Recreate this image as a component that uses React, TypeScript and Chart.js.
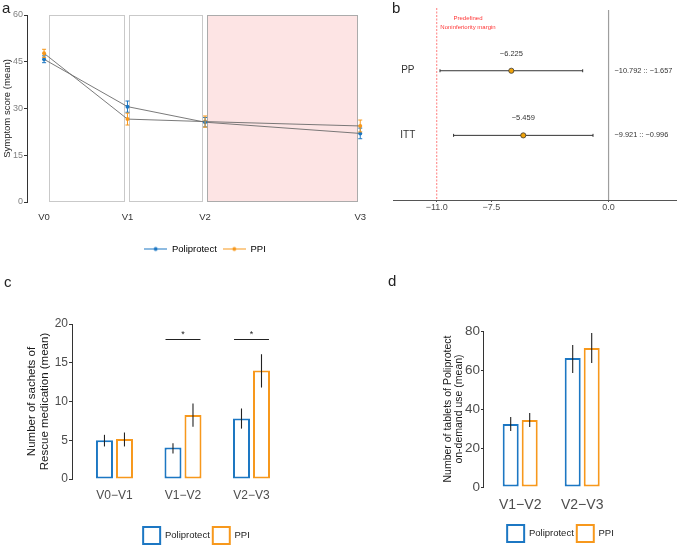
import React, { useEffect, useRef } from "react";
import { Chart, registerables } from "chart.js";

Chart.register(...registerables);

const FONT = '"Liberation Sans", Arial, Helvetica, sans-serif';
Chart.defaults.font.family = FONT;

const BLUE = "#1c77c3";
const ORANGE = "#f7981c";
const LINE_GREY = "#6b6b6b";
const MINUS = "\u2212";

// ---------- panel a: symptom score ----------
const visits = ["V0", "V1", "V2", "V3"];
const visitX = [0, 4.3, 8.3, 16.3];
const poliScore = [45.8, 30.6, 25.6, 22.0];
const poliScoreErr = [1.1, 1.8, 1.5, 1.7];
const ppiScore = [47.7, 26.6, 25.8, 24.4];
const ppiScoreErr = [1.3, 1.9, 1.8, 1.9];
const phaseStart = [0.26, 4.38, 8.41];
const phaseEnd = [4.13, 8.15, 16.14];
const scoreMax = 60;

// ---------- panel b: forest plot ----------
const populations = ["PP", "ITT"];
const popY = [2, 1];
const diffEstimate = [-6.225, -5.459];
const diffLower = [-10.792, -9.921];
const diffUpper = [-1.657, -0.996];
const nonInferiorityMargin = -11.0;
const diffTicks = [-11.0, -7.5, 0.0];
const marginLabel = ["Predefined", "Noninferiority margin"];

// ---------- panel c: rescue medication ----------
const periodsC = ["V0\u2212V1", "V1\u2212V2", "V2\u2212V3"];
const poliSachets = [5.0, 4.05, 7.8];
const poliSachetsLo = [4.2, 3.3, 6.5];
const poliSachetsHi = [5.7, 4.6, 9.1];
const ppiSachets = [5.15, 8.25, 14.0];
const ppiSachetsLo = [4.2, 6.75, 11.8];
const ppiSachetsHi = [6.0, 9.75, 16.1];
const sigPeriods = [2, 3];
const sigLevel = 18;

// ---------- panel d: on-demand tablets ----------
const periodsD = ["V1\u2212V2", "V2\u2212V3"];
const poliTablets = [32.3, 66.2];
const poliTabletsLo = [28.7, 58.5];
const poliTabletsHi = [35.9, 72.8];
const ppiTablets = [34.4, 71.3];
const ppiTabletsLo = [30.8, 63.6];
const ppiTabletsHi = [38.0, 79.0];

function fmtSigned(v: number, digits: number) {
  return (v < 0 ? MINUS : "") + Math.abs(v).toFixed(digits);
}

function seg(ctx: CanvasRenderingContext2D, x1: number, y1: number, x2: number, y2: number) {
  ctx.beginPath();
  ctx.moveTo(x1, y1);
  ctx.lineTo(x2, y2);
  ctx.stroke();
}

const legendShift = {
  id: "legendShift",
  afterLayout(chart: any, _a: any, opts: any) {
    const l = chart.legend;
    if (!l) return;
    const dx = (opts && opts.dx) || 0;
    const dy = (opts && opts.dy) || 0;
    l.left += dx;
    l.right += dx;
    l.top += dy;
    l.bottom += dy;
  },
};

function lineDotIcon(color: string) {
  const c = document.createElement("canvas");
  c.width = 23;
  c.height = 7;
  const g = c.getContext("2d")!;
  g.strokeStyle = color;
  g.lineWidth = 1;
  g.beginPath();
  g.moveTo(0, 3.5);
  g.lineTo(23, 3.5);
  g.stroke();
  g.fillStyle = color;
  g.beginPath();
  g.arc(11.5, 3.5, 2, 0, Math.PI * 2);
  g.fill();
  return c;
}

// ---------- builders ----------
function buildA() {
  const phaseFill = ["#ffffff", "#ffffff", "#fde4e4"];
  const phaseBorder = ["#c9c9c9", "#c9c9c9", "#ababab"];
  const phaseBoxes = {
    id: "phaseBoxes",
    beforeDatasetsDraw(chart: any) {
      const { ctx, scales } = chart;
      const x = scales.x, y = scales.y;
      ctx.save();
      phaseStart.forEach((s, i) => {
        const x1 = x.getPixelForValue(s), x2 = x.getPixelForValue(phaseEnd[i]);
        const yt = y.getPixelForValue(scoreMax), yb = y.getPixelForValue(0);
        ctx.fillStyle = phaseFill[i];
        ctx.fillRect(x1, yt, x2 - x1, yb - yt);
        ctx.strokeStyle = phaseBorder[i];
        ctx.lineWidth = 1;
        ctx.strokeRect(Math.round(x1) + 0.5, Math.round(yt) + 0.5, Math.round(x2 - x1), Math.round(yb - yt) - 1);
      });
      ctx.restore();
    },
  };
  const errorBars = {
    id: "errorBarsA",
    afterDatasetsDraw(chart: any) {
      const { ctx, scales } = chart;
      const x = scales.x, y = scales.y;
      const sets: [number[], number[], string][] = [
        [poliScore, poliScoreErr, BLUE],
        [ppiScore, ppiScoreErr, ORANGE],
      ];
      ctx.save();
      ctx.lineWidth = 1;
      sets.forEach(([vals, errs, col]) => {
        ctx.strokeStyle = col;
        vals.forEach((v, i) => {
          const px = x.getPixelForValue(visitX[i]);
          const y1 = y.getPixelForValue(v - errs[i]);
          const y2 = y.getPixelForValue(v + errs[i]);
          seg(ctx, px, y1, px, y2);
          seg(ctx, px - 2, y1, px + 2, y1);
          seg(ctx, px - 2, y2, px + 2, y2);
        });
      });
      ctx.restore();
    },
  };
  const icons = [lineDotIcon(BLUE), lineDotIcon(ORANGE)];
  return {
    type: "line",
    data: {
      datasets: [
        {
          label: "Poliprotect",
          data: visitX.map((x, i) => ({ x, y: poliScore[i] })),
          borderColor: LINE_GREY,
          borderWidth: 0.9,
          pointRadius: 2,
          pointBackgroundColor: BLUE,
          pointBorderWidth: 0,
        },
        {
          label: "PPI",
          data: visitX.map((x, i) => ({ x, y: ppiScore[i] })),
          borderColor: LINE_GREY,
          borderWidth: 0.9,
          pointRadius: 2,
          pointBackgroundColor: ORANGE,
          pointBorderWidth: 0,
        },
      ],
    },
    options: {
      animation: false,
      responsive: false,
      events: [],
      layout: { padding: { top: 15, left: 0, right: 12, bottom: 0 } },
      scales: {
        x: {
          type: "linear",
          min: -0.88,
          max: 16.7,
          offset: false,
          grid: { display: false, drawTicks: false },
          border: { display: false },
          afterBuildTicks: (s: any) => {
            s.ticks = visitX.map((v) => ({ value: v }));
          },
          afterFit: (s: any) => {
            s.height = 34.5;
          },
          ticks: {
            autoSkip: false,
            maxRotation: 0,
            padding: 10,
            color: "#333",
            font: { size: 9.5 },
            callback: (_v: any, i: number) => visits[i],
          },
        },
        y: {
          min: 0,
          max: scoreMax,
          afterFit: (s: any) => {
            s.width = 27;
          },
          ticks: { stepSize: 15, padding: 1, color: "#808080", font: { size: 9 } },
          grid: { drawOnChartArea: false, drawTicks: true, tickLength: 3, color: "#333" },
          border: { display: true, color: "#333", width: 1 },
          title: {
            display: true,
            text: "Symptom score (mean)",
            color: "#222",
            font: { size: 9.5 },
            padding: { top: 1.3, bottom: 0 },
          },
        },
      },
      plugins: {
        legend: {
          position: "bottom",
          labels: {
            usePointStyle: true,
            pointStyleWidth: 23,
            padding: 6,
            color: "#333",
            font: { size: 9.5 },
            generateLabels: () =>
              ["Poliprotect", "PPI"].map((t, i) => ({
                text: t,
                pointStyle: icons[i],
                fillStyle: i ? ORANGE : BLUE,
                strokeStyle: i ? ORANGE : BLUE,
                lineWidth: 0,
                hidden: false,
                datasetIndex: i,
              })),
          },
        },
        tooltip: { enabled: false },
        legendShift: { dx: 21, dy: 1.75 },
      },
    },
    plugins: [legendShift, phaseBoxes, errorBars],
  };
}

function buildB() {
  const popLabelX = -12.85;
  const intervalLabelX = 0.38;
  const marginLabelX = -9.0;
  const forest = {
    id: "forest",
    beforeDatasetsDraw(chart: any) {
      const { ctx, chartArea, scales } = chart;
      const x = scales.x, y = scales.y;
      ctx.save();
      const x0 = x.getPixelForValue(0);
      ctx.strokeStyle = "#9e9e9e";
      ctx.lineWidth = 1.2;
      seg(ctx, x0, chartArea.top, x0, chartArea.bottom);
      const xm = x.getPixelForValue(nonInferiorityMargin);
      ctx.strokeStyle = "rgba(255,70,70,0.7)";
      ctx.lineWidth = 1;
      ctx.setLineDash([2, 1.5]);
      seg(ctx, xm, chartArea.top - 2, xm, chartArea.bottom);
      ctx.setLineDash([]);
      ctx.strokeStyle = "#333";
      ctx.lineWidth = 1;
      populations.forEach((_p, i) => {
        const py = y.getPixelForValue(popY[i]);
        const xl = x.getPixelForValue(diffLower[i]);
        const xu = x.getPixelForValue(diffUpper[i]);
        seg(ctx, xl, py, xu, py);
        seg(ctx, xl, py - 1.5, xl, py + 1.5);
        seg(ctx, xu, py - 1.5, xu, py + 1.5);
      });
      ctx.restore();
    },
    afterDatasetsDraw(chart: any) {
      const { ctx, chartArea, scales } = chart;
      const x = scales.x, y = scales.y;
      ctx.save();
      ctx.textBaseline = "middle";
      ctx.fillStyle = "#ff3535";
      ctx.textAlign = "center";
      ctx.font = `6px ${FONT}`;
      const xml = x.getPixelForValue(marginLabelX);
      ctx.fillText(marginLabel[0], xml, chartArea.top + 8);
      ctx.fillText(marginLabel[1], xml, chartArea.top + 17);
      populations.forEach((p, i) => {
        const py = y.getPixelForValue(popY[i]);
        ctx.fillStyle = "#333";
        ctx.textAlign = "center";
        ctx.font = `10px ${FONT}`;
        ctx.fillText(p, x.getPixelForValue(popLabelX), py);
        ctx.font = `7.5px ${FONT}`;
        ctx.fillText(fmtSigned(diffEstimate[i], 3), x.getPixelForValue(diffEstimate[i]), py - 17);
        ctx.textAlign = "left";
        ctx.font = `7.4px ${FONT}`;
        ctx.fillText(
          `${fmtSigned(diffLower[i], 3)} :: ${fmtSigned(diffUpper[i], 3)}`,
          x.getPixelForValue(intervalLabelX),
          py
        );
      });
      ctx.restore();
    },
  };
  return {
    type: "scatter",
    data: {
      datasets: [
        {
          label: "Difference",
          data: diffEstimate.map((v, i) => ({ x: v, y: popY[i] })),
          pointRadius: 2.6,
          pointBackgroundColor: "#f0a30a",
          pointBorderColor: "#3a3a3a",
          pointBorderWidth: 0.8,
        },
      ],
    },
    options: {
      animation: false,
      responsive: false,
      events: [],
      layout: { padding: { top: 10, left: 13, right: 1, bottom: 0 } },
      scales: {
        x: {
          type: "linear",
          min: -13.8,
          max: 4.33,
          afterBuildTicks: (s: any) => {
            s.ticks = diffTicks.map((v) => ({ value: v }));
          },
          afterFit: (s: any) => {
            s.height = 20;
          },
          ticks: {
            autoSkip: false,
            maxRotation: 0,
            padding: 0,
            color: "#4d4d4d",
            font: { size: 9 },
            callback: (v: any) => fmtSigned(Number(v), 1),
          },
          grid: { drawOnChartArea: false, drawTicks: true, tickLength: 2, color: "#555" },
          border: { display: true, color: "#555", width: 1 },
        },
        y: { display: false, min: 0, max: 2.94 },
      },
      plugins: { legend: { display: false }, tooltip: { enabled: false } },
    },
    plugins: [forest],
  };
}

function barErrorPlugin(id: string, lows: number[][], highs: number[][]) {
  return {
    id,
    afterDatasetsDraw(chart: any) {
      const { ctx } = chart;
      const y = chart.scales.y;
      ctx.save();
      ctx.strokeStyle = "#222";
      ctx.lineWidth = 1.1;
      chart.data.datasets.forEach((_ds: any, di: number) => {
        const meta = chart.getDatasetMeta(di);
        meta.data.forEach((bar: any, j: number) => {
          seg(ctx, bar.x, y.getPixelForValue(lows[di][j]), bar.x, y.getPixelForValue(highs[di][j]));
        });
      });
      ctx.restore();
    },
  };
}

function barDatasets(a: number[], b: number[], catPct: number, barPct: number) {
  return [
    {
      label: "Poliprotect",
      data: a.map((v, i) => ({ x: i + 1, y: v })),
      backgroundColor: "#ffffff",
      borderColor: BLUE,
      borderWidth: 2,
      borderSkipped: false,
      categoryPercentage: catPct,
      barPercentage: barPct,
    },
    {
      label: "PPI",
      data: b.map((v, i) => ({ x: i + 1, y: v })),
      backgroundColor: "#ffffff",
      borderColor: ORANGE,
      borderWidth: 2,
      borderSkipped: false,
      categoryPercentage: catPct,
      barPercentage: barPct,
    },
  ];
}

function buildBar(cfg: {
  labels: string[];
  a: number[];
  b: number[];
  catPct: number;
  barPct: number;
  xMin: number;
  xMax: number;
  yMax: number;
  yStep: number;
  padding: any;
  xHeight: number;
  yWidth: number;
  tickFont: number;
  tickLen: number;
  xFont: number;
  xPad: number;
  title: string[];
  titleFont: number;
  titleLH: number;
  titlePad: number;
  legendShiftOpts: any;
  extra: any[];
}) {
  return {
    type: "bar",
    data: { datasets: barDatasets(cfg.a, cfg.b, cfg.catPct, cfg.barPct) },
    options: {
      animation: false,
      responsive: false,
      events: [],
      layout: { padding: cfg.padding },
      scales: {
        x: {
          type: "linear",
          min: cfg.xMin,
          max: cfg.xMax,
          offset: false,
          grid: { display: false, drawTicks: false, offset: false },
          border: { display: false },
          afterBuildTicks: (s: any) => {
            s.ticks = cfg.labels.map((_l, i) => ({ value: i + 1 }));
          },
          afterFit: (s: any) => {
            s.height = cfg.xHeight;
          },
          ticks: {
            autoSkip: false,
            maxRotation: 0,
            padding: cfg.xPad,
            color: "#4d4d4d",
            font: { size: cfg.xFont },
            callback: (_v: any, i: number) => cfg.labels[i],
          },
        },
        y: {
          min: 0,
          max: cfg.yMax,
          afterFit: (s: any) => {
            s.width = cfg.yWidth;
          },
          ticks: { stepSize: cfg.yStep, padding: 1, color: "#4d4d4d", font: { size: cfg.tickFont } },
          grid: { drawOnChartArea: false, drawTicks: true, tickLength: cfg.tickLen, color: "#333" },
          border: { display: true, color: "#333", width: 1 },
          title: {
            display: true,
            text: cfg.title,
            color: "#1a1a1a",
            font: { size: cfg.titleFont, lineHeight: cfg.titleLH },
            padding: { top: cfg.titlePad, bottom: 0 },
          },
        },
      },
      plugins: {
        legend: {
          position: "bottom",
          labels: { boxWidth: 17, boxHeight: 17, padding: 3, color: "#222", font: { size: 9.5 } },
        },
        tooltip: { enabled: false },
        legendShift: cfg.legendShiftOpts,
      },
    },
    plugins: [legendShift, ...cfg.extra],
  };
}

function buildC() {
  const sigHalfWidth = 0.255;
  const sig = {
    id: "sigC",
    afterDatasetsDraw(chart: any) {
      const { ctx, scales } = chart;
      const x = scales.x, y = scales.y;
      const py = y.getPixelForValue(sigLevel);
      ctx.save();
      ctx.strokeStyle = "#222";
      ctx.lineWidth = 1.1;
      ctx.fillStyle = "#222";
      ctx.textAlign = "center";
      ctx.textBaseline = "alphabetic";
      ctx.font = `9px ${FONT}`;
      sigPeriods.forEach((p) => {
        seg(ctx, x.getPixelForValue(p - sigHalfWidth), py, x.getPixelForValue(p + sigHalfWidth), py);
        ctx.fillText("*", x.getPixelForValue(p), py - 3);
      });
      ctx.restore();
    },
  };
  return buildBar({
    labels: periodsC,
    a: poliSachets,
    b: ppiSachets,
    catPct: 0.584,
    barPct: 0.85,
    xMin: 0.38,
    xMax: 3.6,
    yMax: 20,
    yStep: 5,
    padding: { top: 54, left: 0, right: 17.4, bottom: 0 },
    xHeight: 36,
    yWidth: 72,
    tickFont: 12,
    tickLen: 3,
    xFont: 12,
    xPad: 9,
    title: ["Number of sachets of", "Rescue medication (mean)"],
    titleFont: 11.5,
    titleLH: 1.15,
    titlePad: 25.4,
    legendShiftOpts: { dx: 50.2, dy: 9 },
    extra: [barErrorPlugin("errC", [poliSachetsLo, ppiSachetsLo], [poliSachetsHi, ppiSachetsHi]), sig],
  });
}

function buildD() {
  return buildBar({
    labels: periodsD,
    a: poliTablets,
    b: ppiTablets,
    catPct: 0.613,
    barPct: 0.842,
    xMin: 0.4,
    xMax: 2.6,
    yMax: 80,
    yStep: 20,
    padding: { top: 61, left: 0, right: 61.6, bottom: 0 },
    xHeight: 28,
    yWidth: 102,
    tickFont: 13.5,
    tickLen: 2,
    xFont: 14,
    xPad: 9.6,
    title: ["Number of tablets of Poliprotect", "on-demand use (mean)"],
    titleFont: 10.5,
    titleLH: 1.1,
    titlePad: 61.2,
    legendShiftOpts: { dx: 60.3, dy: 7 },
    extra: [barErrorPlugin("errD", [poliTabletsLo, ppiTabletsLo], [poliTabletsHi, ppiTabletsHi])],
  });
}

function ChartCanvas(props: { left: number; top: number; width: number; height: number; build: () => any }) {
  const ref = useRef<HTMLCanvasElement>(null);
  useEffect(() => {
    if (!ref.current) return;
    const chart = new Chart(ref.current, props.build());
    return () => chart.destroy();
  }, []);
  return (
    <canvas
      ref={ref}
      width={props.width}
      height={props.height}
      style={{ position: "absolute", left: props.left, top: props.top, width: props.width, height: props.height }}
    />
  );
}

const panelLabel = (left: number, top: number): React.CSSProperties => ({
  position: "absolute",
  left,
  top,
  fontSize: 15,
  lineHeight: 1,
  color: "#222",
  fontFamily: FONT,
});

export default function App() {
  return (
    <div
      style={{
        position: "fixed",
        left: 0,
        top: 0,
        width: 681,
        height: 545,
        overflow: "hidden",
        background: "#ffffff",
        fontFamily: FONT,
      }}
    >
      <ChartCanvas left={0} top={0} width={380} height={262} build={buildA} />
      <ChartCanvas left={380} top={0} width={301} height={220} build={buildB} />
      <ChartCanvas left={0} top={270} width={310} height={275} build={buildC} />
      <ChartCanvas left={381} top={270} width={300} height={275} build={buildD} />
      <div style={panelLabel(2, 0)}>a</div>
      <div style={panelLabel(392, 0)}>b</div>
      <div style={panelLabel(4, 274)}>c</div>
      <div style={panelLabel(388, 273)}>d</div>
    </div>
  );
}
